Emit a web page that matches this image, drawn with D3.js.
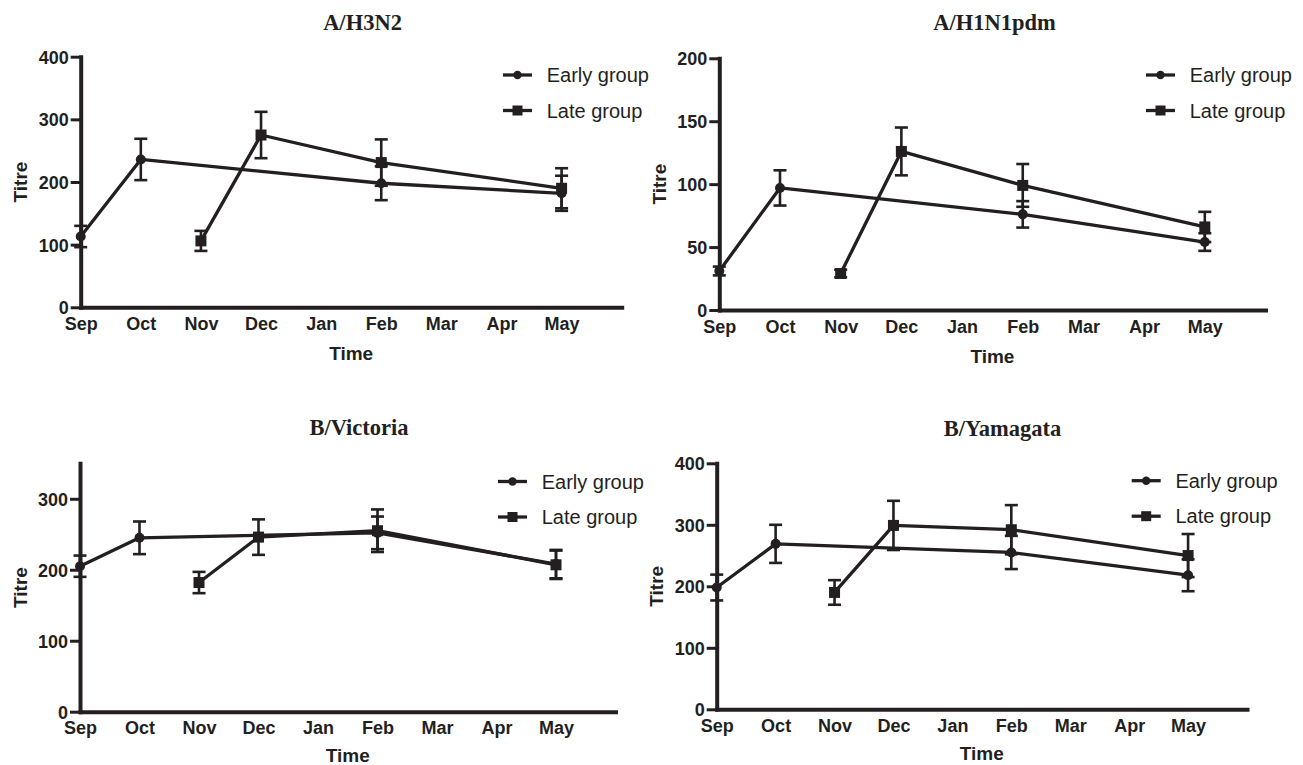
<!DOCTYPE html>
<html>
<head>
<meta charset="utf-8">
<script src="https://cdn.jsdelivr.net/npm/d3@7"></script>
<style>
  html, body { margin: 0; padding: 0; background: #ffffff; }
  svg { display: block; }
  .tick text { font-family: "Liberation Sans", Arial, sans-serif; font-weight: bold; font-size: 18px; fill: #231f20; }
</style>
</head>
<body>
<svg id="chart" width="1303" height="765"></svg>
<script>
// ---------------- DATA ----------------
const months = ["Sep", "Oct", "Nov", "Dec", "Jan", "Feb", "Mar", "Apr", "May"];
const earlyMonths = ["Sep", "Oct", "Feb", "May"];
const lateMonths = ["Nov", "Dec", "Feb", "May"];
const seriesNames = ["Early group", "Late group"];
const panelTitles = ["A/H3N2", "A/H1N1pdm", "B/Victoria", "B/Yamagata"];

const h3n2Early = [113, 236, 198, 182];
const h3n2EarlyErr = [17, 33, 27, 28];
const h3n2Late = [106, 275, 231, 190];
const h3n2LateErr = [16, 37, 37, 32];

const h1n1Early = [31, 97, 76, 54];
const h1n1EarlyErr = [3.5, 14, 10.5, 7];
const h1n1Late = [29, 126, 99, 66];
const h1n1LateErr = [3, 19, 17, 12];

const vicEarly = [205, 245, 252, 208];
const vicEarlyErr = [15, 23, 23, 20];
const vicLate = [182, 246, 255, 207];
const vicLateErr = [15, 25, 30, 20];

const yamEarly = [198, 269, 255, 218];
const yamEarlyErr = [21, 31, 27, 26];
const yamLate = [190, 299, 292, 250];
const yamLateErr = [20, 40, 40, 35];

const h3n2Ticks = [0, 100, 200, 300, 400];
const h1n1Ticks = [0, 50, 100, 150, 200];
const vicTicks = [0, 100, 200, 300];
const yamTicks = [0, 100, 200, 300, 400];

// ---------------- LAYOUT ----------------
const ink = "#231f20";
const panels = [
  { title: panelTitles[0], early: h3n2Early, earlyErr: h3n2EarlyErr, late: h3n2Late, lateErr: h3n2LateErr,
    ticks: h3n2Ticks, yMax: 400, timeOff: 53,
    x0: 80.7, x1: 621.7, yB: 307.3, yT: 56.7, titleX: 362.5, titleY: 30, legX: 503, legY: 75 },
  { title: panelTitles[1], early: h1n1Early, earlyErr: h1n1EarlyErr, late: h1n1Late, lateErr: h1n1LateErr,
    ticks: h1n1Ticks, yMax: 200, timeOff: 53,
    x0: 719.3, x1: 1265.5, yB: 310, yT: 58.3, titleX: 994.5, titleY: 30, legX: 1146, legY: 75 },
  { title: panelTitles[2], early: vicEarly, earlyErr: vicEarlyErr, late: vicLate, lateErr: vicLateErr,
    ticks: vicTicks, yMax: 350, timeOff: 50,
    x0: 80, x1: 615.5, yB: 711.7, yT: 463.3, titleX: 359, titleY: 435, legX: 498, legY: 481.5 },
  { title: panelTitles[3], early: yamEarly, earlyErr: yamEarlyErr, late: yamLate, lateErr: yamLateErr,
    ticks: yamTicks, yMax: 400, timeOff: 51,
    x0: 716.7, x1: 1247, yB: 709.3, yT: 463.3, titleX: 1002.5, titleY: 436, legX: 1131.7, legY: 480.7 }
];

const svg = d3.select("#chart");

function drawMarker(g, type, cx, cy, big) {
  if (type === "circle") {
    g.append("circle").attr("cx", cx).attr("cy", cy).attr("r", big ? 5 : 4.2).attr("fill", ink);
  } else {
    const s = big ? 11 : 10;
    g.append("rect").attr("x", cx - s / 2).attr("y", cy - s / 2).attr("width", s).attr("height", s).attr("fill", ink);
  }
}

panels.forEach(p => {
  const g = svg.append("g");
  const x = d3.scaleLinear().domain([0, months.length]).range([p.x0, p.x1]);
  const y = d3.scaleLinear().domain([0, p.yMax]).range([p.yB, p.yT]);
  const mi = m => months.indexOf(m);

  // Title
  g.append("text").attr("x", p.titleX).attr("y", p.titleY).attr("text-anchor", "middle")
    .style("font-family", "'Liberation Serif', 'Times New Roman', serif").style("font-weight", "bold")
    .style("font-size", "22.5px").style("fill", ink).text(p.title);

  // X axis
  const xAxis = d3.axisBottom(x).tickValues(d3.range(months.length)).tickFormat(i => months[i])
    .tickSize(0).tickSizeOuter(0).tickPadding(10);
  const xg = g.append("g").attr("transform", `translate(0,${p.yB})`).call(xAxis);
  xg.select(".domain").attr("stroke", ink).attr("stroke-width", 4).attr("stroke-linecap", "square");

  // Y axis
  const yAxis = d3.axisLeft(y).tickValues(p.ticks).tickSize(10).tickSizeOuter(0).tickPadding(2);
  const yg = g.append("g").attr("transform", `translate(${p.x0},0)`).call(yAxis);
  yg.select(".domain").attr("stroke", ink).attr("stroke-width", 4).attr("stroke-linecap", "square");
  yg.selectAll(".tick line").attr("stroke", ink).attr("stroke-width", 3);
  yg.selectAll(".tick text").attr("dy", "0.36em");

  // Axis titles
  g.append("text").attr("transform", `translate(${p.x0 - 53.5},${(p.yB + p.yT) / 2}) rotate(-90)`)
    .attr("text-anchor", "middle")
    .style("font-family", "'Liberation Sans', Arial, sans-serif").style("font-weight", "bold")
    .style("font-size", "19px").style("fill", ink).text("Titre");
  g.append("text").attr("x", (p.x0 + p.x1) / 2).attr("y", p.yB + p.timeOff)
    .attr("text-anchor", "middle")
    .style("font-family", "'Liberation Sans', Arial, sans-serif").style("font-weight", "bold")
    .style("font-size", "19px").style("fill", ink).text("Time");

  // Series
  const series = [
    { m: earlyMonths, v: p.early, e: p.earlyErr, type: "circle" },
    { m: lateMonths, v: p.late, e: p.lateErr, type: "square" }
  ];
  const line = d3.line().x(d => x(mi(d.m))).y(d => y(d.v));
  series.forEach(s => {
    const pts = s.m.map((m, i) => ({ m, v: s.v[i], e: s.e[i] }));
    pts.forEach(d => {
      const cx = x(mi(d.m));
      const yt = y(d.v + d.e), yb = y(d.v - d.e);
      g.append("line").attr("x1", cx).attr("x2", cx).attr("y1", yt).attr("y2", yb)
        .attr("stroke", ink).attr("stroke-width", 2.6);
      [yt, yb].forEach(yy => g.append("line").attr("x1", cx - 6.5).attr("x2", cx + 6.5)
        .attr("y1", yy).attr("y2", yy).attr("stroke", ink).attr("stroke-width", 2.6));
    });
    g.append("path").datum(pts).attr("d", line).attr("fill", "none")
      .attr("stroke", ink).attr("stroke-width", 3.3).attr("stroke-linejoin", "round");
    pts.forEach(d => drawMarker(g, s.type, x(mi(d.m)), y(d.v), true));
  });

  // Legend
  seriesNames.forEach((name, i) => {
    const ly = p.legY + i * 35.5;
    g.append("line").attr("x1", p.legX).attr("x2", p.legX + 29).attr("y1", ly).attr("y2", ly)
      .attr("stroke", ink).attr("stroke-width", 3.3);
    drawMarker(g, i === 0 ? "circle" : "square", p.legX + 14.5, ly, false);
    g.append("text").attr("x", p.legX + 43.7).attr("y", ly).attr("dy", "0.36em")
      .style("font-family", "'Liberation Sans', Arial, sans-serif")
      .style("font-size", "20px").style("fill", ink).text(name);
  });
});
</script>
</body>
</html>
